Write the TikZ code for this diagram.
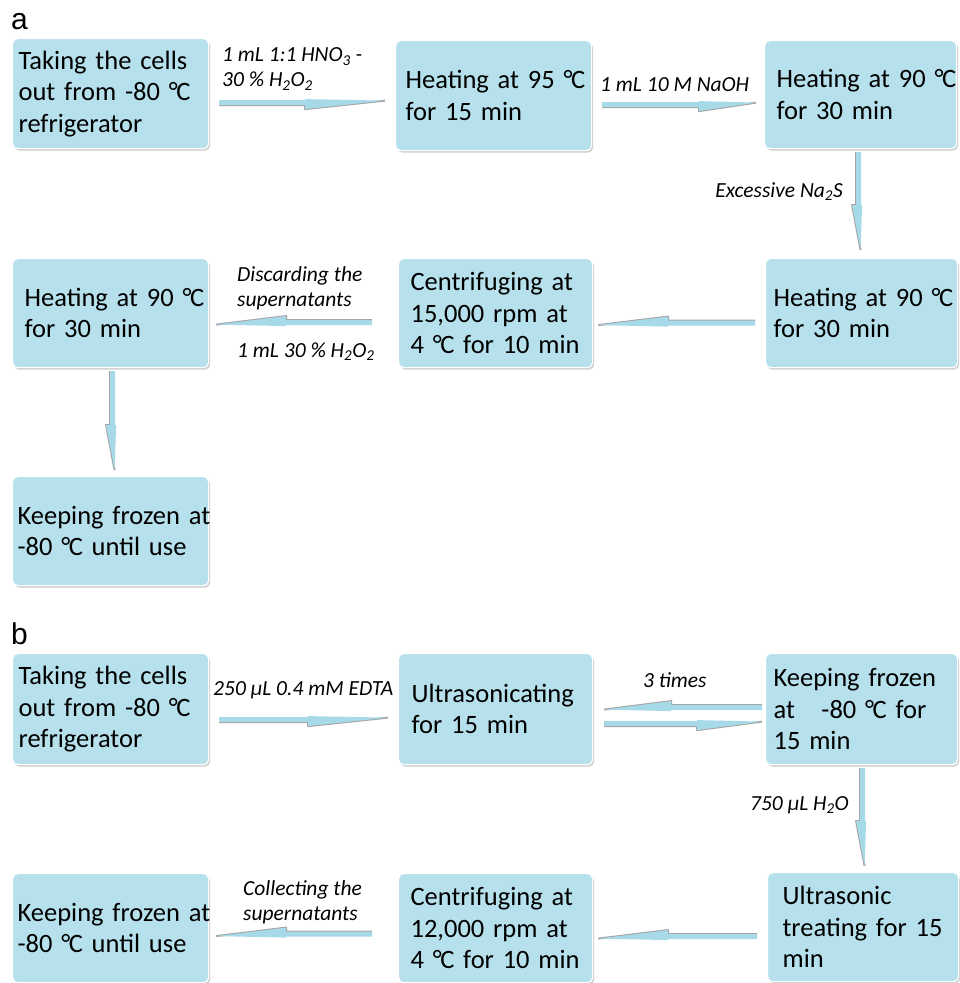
\documentclass[tikz,border=0pt]{standalone}
\usepackage{fontspec}
\setmainfont{Carlito}
\newfontfamily\panelfont{Liberation Sans}
\usetikzlibrary{shadows,calc}
\definecolor{boxblue}{RGB}{182,224,235}
\definecolor{flowblue}{RGB}{166,218,232}
\definecolor{shadegray}{RGB}{165,165,165}
\tikzset{
  box/.style={rectangle, rounded corners=5pt, fill=boxblue, draw=white, line width=1.2pt,
    align=left, anchor=north west, inner ysep=0pt,
    font=\fontsize{26.5}{31.5}\selectfont,
    drop shadow={shadow xshift=1.5pt, shadow yshift=-2pt, opacity=0.35, fill=black!55}},
  lab/.style={font=\fontsize{21.5}{25}\selectfont\itshape, inner sep=0pt, align=left},
  panel/.style={font=\panelfont\fontsize{30}{30}\selectfont, inner sep=0pt, anchor=base west},
  flowfill/.style={fill=flowblue},
  flowedge/.style={draw=shadegray, line width=2pt, line join=round},
}
\newcommand\dg{°\kern-0.06em C}
% flow arrow: #1 start, #2 end, #3 head length; grey edge on the right of the direction
\newcommand\flowarrow[3]{%
  \coordinate (fS) at #1; \coordinate (fE) at #2;
  \coordinate (fB) at ($(fE)!#3!(fS)$);
  \coordinate (fSl) at ($(fS)!2.5pt!90:(fE)$);
  \coordinate (fSr) at ($(fS)!2.5pt!-90:(fE)$);
  \coordinate (fBl) at ($(fB)!2.5pt!90:(fE)$);
  \coordinate (fBr) at ($(fB)!2.5pt!-90:(fE)$);
  \coordinate (fHl) at ($(fB)!3.5pt!90:(fE)$);
  \coordinate (fHr) at ($(fB)!6.5pt!-90:(fE)$);
  \coordinate (fT) at ($(fE)!2pt!-90:(fB)$);
  \draw[flowedge] (fSr) -- (fBr) -- (fHr) -- (fT);
  \fill[flowfill] (fSl) -- (fBl) -- (fHl) -- (fT) -- (fHr) -- (fBr) -- (fSr) -- cycle;}

\begin{document}
\begin{tikzpicture}[x=1pt,y=-1pt]
\useasboundingbox (0,0) rectangle (960,983);
\fill[white] (0,0) rectangle (960,983);

% panel labels
\node[panel] (pa) at (11,29) {a};
\node[panel] (pb) at (11,644) {b};

% ---------- panel a ----------
\node[box, minimum width=196pt, minimum height=110pt, inner xsep=6pt, text width=184pt] (a1) at (12,38)
  {\mbox{Taking the cells}\\\mbox{out from -80 \dg}\\\mbox{refrigerator}};
\node[box, minimum width=196pt, minimum height=110pt, inner xsep=10pt, text width=176pt] (a2) at (395,40)
  {\mbox{Heating at 95 \dg}\\\mbox{for 15 min}};
\node[box, minimum width=192pt, minimum height=108pt, inner xsep=12pt, text width=168pt] (a3) at (764,40)
  {\mbox{Heating at 90 \dg}\\\mbox{for 30 min}};
\node[box, minimum width=192pt, minimum height=109pt, inner xsep=8pt, text width=176pt] (a4) at (765,258)
  {\mbox{Heating at 90 \dg}\\\mbox{for 30 min}};
\node[box, minimum width=194pt, minimum height=109pt, inner xsep=12pt, text width=170pt] (a5) at (398,258)
  {\mbox{Centrifuging at}\\\mbox{15,000 rpm at}\\\mbox{4 \dg{} for 10 min}};
\node[box, minimum width=196pt, minimum height=109pt, inner xsep=12pt, text width=172pt] (a6) at (12,258)
  {\mbox{Heating at 90 \dg}\\\mbox{for 30 min}};
\node[box, minimum width=196pt, minimum height=109pt, inner xsep=5pt, text width=186pt] (a7) at (12,476)
  {\mbox{Keeping frozen at}\\\mbox{-80 \dg{} until use}};

\flowarrow{($(a1.east)+(10,9)$)}{($(a1.east -| a2.west)+(-10,9)$)}{80pt}
\flowarrow{($(a2.east)+(10,9)$)}{($(a2.east -| a3.west)+(-8,9)$)}{57pt}
\flowarrow{($(a3.south)+(-2,3)$)}{($(a3.south |- a4.north)+(-2,-8)$)}{45pt}
\flowarrow{($(a4.west)+(-10,10)$)}{($(a4.west -| a5.east)+(5,10)$)}{70pt}
\flowarrow{($(a5.west)+(-26,9.5)$)}{($(a5.west -| a6.east)+(7,9.5)$)}{70pt}
\flowarrow{($(a6.south)+(2,3)$)}{($(a6.south |- a7.north)+(2,-6)$)}{45pt}

\node[lab, anchor=west] (l1) at (222,69) {1 mL 1:1 HNO\textsubscript{3} -\\30 \% H\textsubscript{2}O\textsubscript{2}};
\node[lab, anchor=west] (l2) at (600,85) {1 mL 10 M NaOH};
\node[lab, anchor=east] (l3) at (843,192) {Excessive Na\textsubscript{2}S};
\node[lab, anchor=west] (l4) at (237,288) {Discarding the\\supernatants};
\node[lab, anchor=west] (l5) at (237,352) {1 mL 30 \% H\textsubscript{2}O\textsubscript{2}};

% ---------- panel b ----------
\node[box, minimum width=196pt, minimum height=111pt, inner xsep=6pt, text width=184pt] (b1) at (12,653)
  {\mbox{Taking the cells}\\\mbox{out from -80 \dg}\\\mbox{refrigerator}};
\node[box, minimum width=194pt, minimum height=111pt, inner xsep=13pt, text width=168pt] (b2) at (398,653)
  {\mbox{Ultrasonicating}\\\mbox{for 15 min}};
\node[box, minimum width=192pt, minimum height=111pt, inner xsep=8pt, text width=176pt] (b3) at (765,653)
  {\mbox{Keeping frozen}\\\mbox{at\ \ \ -80 \dg{} for}\\\mbox{15 min}};
\node[box, minimum width=191pt, minimum height=109pt, inner xsep=15pt, text width=161pt] (b4) at (767,872)
  {\mbox{Ultrasonic}\\\mbox{treating for 15}\\\mbox{min}};
\node[box, minimum width=194pt, minimum height=109pt, inner xsep=12pt, text width=170pt] (b5) at (398,873)
  {\mbox{Centrifuging at}\\\mbox{12,000 rpm at}\\\mbox{4 \dg{} for 10 min}};
\node[box, minimum width=196pt, minimum height=109pt, inner xsep=5pt, text width=186pt] (b6) at (12,873)
  {\mbox{Keeping frozen at}\\\mbox{-80 \dg{} until use}};

\flowarrow{($(b1.east)+(10,10.5)$)}{($(b1.east -| b2.west)+(-10,10.5)$)}{80pt}
\flowarrow{($(b3.west)+(-3,-1.5)$)}{($(b3.west -| b2.east)+(11,-1.5)$)}{67pt}
\flowarrow{($(b2.east)+(11,14.5)$)}{($(b2.east -| b3.west)+(-3,14.5)$)}{65pt}
\flowarrow{($(b3.south)+(1,3)$)}{($(b3.south |- b4.north)+(1,-6)$)}{45pt}
\flowarrow{($(b4.west)+(-10,9.5)$)}{($(b4.west -| b5.east)+(5,9.5)$)}{70pt}
\flowarrow{($(b5.west)+(-26,6)$)}{($(b5.west -| b6.east)+(7,6)$)}{70pt}

\node[lab, anchor=west] (m1) at (213,690) {250 μL 0.4 mM EDTA};
\node[lab, anchor=west] (m2) at (643,680) {3 times};
\node[lab, anchor=east] (m3) at (849,805) {750 μL H\textsubscript{2}O};
\node[lab, anchor=west] (m4) at (243,902) {Collecting the\\supernatants};
\end{tikzpicture}
\end{document}
